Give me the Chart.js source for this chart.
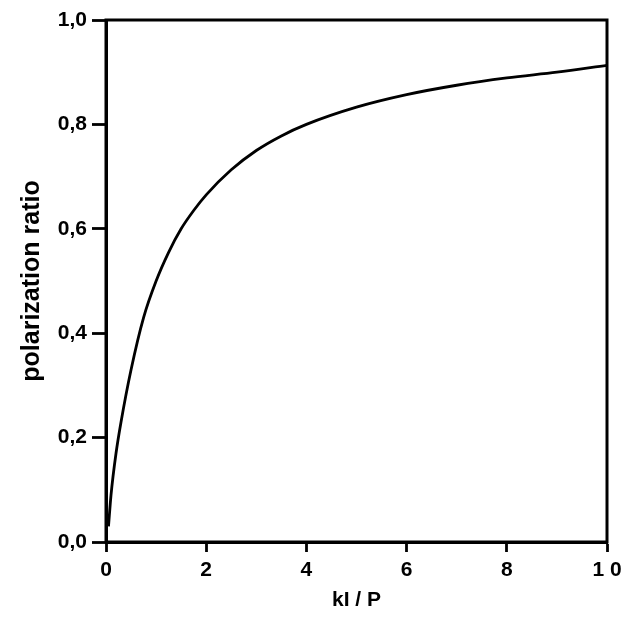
<!DOCTYPE html>
<html lang="en">
<head>
    <meta charset="UTF-8">
    <title>Polarization ratio</title>
    <script src="https://cdn.jsdelivr.net/npm/chart.js"></script>
    <style>
        body { margin: 0; background: #fff; }
        .box { width: 623px; height: 618px; }
    </style>
</head>
<body>
    <div class="box">
        <canvas id="myChart" width="623" height="618"></canvas>
    </div>

<script>
    // valores
    var razaoK = [0.05, 0.1, 0.2, 0.3, 0.5, 0.75, 1, 1.25, 1.5, 1.75, 2, 2.5, 3, 3.5, 4, 5, 6, 7, 8, 9, 10]
    var polarizacao = [0.03, 0.09, 0.17, 0.23, 0.33, 0.43, 0.5, 0.555, 0.6, 0.635, 0.665, 0.713, 0.75, 0.778, 0.8, 0.833, 0.857, 0.875, 0.889, 0.9, 0.913]
    var ticksX = ['0', '2', '4', '6', '8', '1 0']
    var ticksY = ['0,0', '0,2', '0,4', '0,6', '0,8', '1,0']

    var pontos = razaoK.map(function (k, i) { return { x: k, y: polarizacao[i] } })

    const moldura = {
        id: 'moldura',
        afterDatasetsDraw(chart) {
            const a = chart.chartArea
            const ctx = chart.ctx
            ctx.save()
            ctx.strokeStyle = '#000'
            ctx.lineWidth = 3
            ctx.strokeRect(a.left, a.top, a.right - a.left, a.bottom - a.top)
            ctx.restore()
        }
    }

    const familia = 'Liberation Sans, Arial, sans-serif'
    const fonte = { family: familia, weight: 'bold', size: 21 }

    const myChart = new Chart(document.getElementById('myChart'), {
        type: 'line',
        data: {
            datasets: [{
                data: pontos,
                borderColor: '#000',
                borderWidth: 2.8,
                pointRadius: 0,
                fill: false,
                cubicInterpolationMode: 'monotone'
            }]
        },
        options: {
            responsive: false,
            animation: false,
            layout: { padding: { left: 0, top: 20, right: 16, bottom: 0 } },
            plugins: { legend: { display: false }, tooltip: { enabled: false } },
            scales: {
                x: {
                    type: 'linear',
                    min: 0, max: 10,
                    ticks: {
                        stepSize: 2, color: '#000', font: fonte, padding: 6,
                        callback: function (v) { return ticksX[v / 2] }
                    },
                    grid: { drawOnChartArea: false, tickLength: 10, tickWidth: 2.8, tickColor: '#000' },
                    border: { color: '#000', width: 3 },
                    title: { display: true, text: 'kI / P', color: '#000', font: { family: familia, weight: 'bold', size: 21 }, padding: { top: 0, bottom: 5 } },
                    afterFit: function (s) { s.height = 76; s.paddingLeft = 0; s.paddingRight = 0 }
                },
                y: {
                    min: 0, max: 1,
                    ticks: {
                        stepSize: 0.2, color: '#000', font: fonte, padding: 5,
                        callback: function (v) { return ticksY[Math.round(v * 5)] }
                    },
                    grid: { drawOnChartArea: false, tickLength: 14, tickWidth: 2.8, tickColor: '#000' },
                    border: { color: '#000', width: 3 },
                    title: { display: true, text: 'polarization ratio', color: '#000', font: { family: familia, weight: 'bold', size: 25 }, padding: { top: 17, bottom: 0 } },
                    afterFit: function (s) { s.width = 106; s.paddingTop = 0; s.paddingBottom = 0 }
                }
            }
        },
        plugins: [moldura]
    })
</script>
</body>
</html>
